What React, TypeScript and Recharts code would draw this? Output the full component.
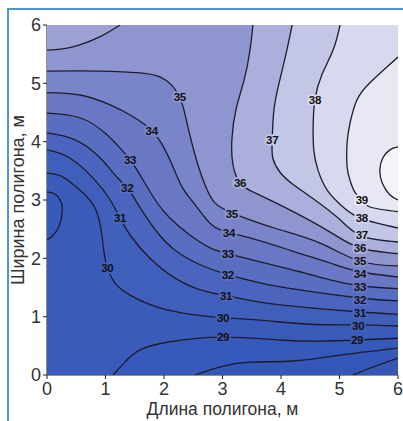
import React from "react";
import { ComposedChart, Scatter, XAxis, YAxis, Label } from "recharts";

type Pt = [number, number];

const ticks = [0, 1, 2, 3, 4, 5, 6];

// plot corners (length, width), m
const plotBox: Pt[] = [[0, 0], [6, 0], [6, 6], [0, 6]];
const closeTopLeftBottom: Pt[] = [[6, 6], [0, 6], [0, 0]];
const closeTop: Pt[] = [[6, 6], [0, 6]];
const closeTopRight: Pt[] = [[6, 6]];
const closeTopLeft: Pt[] = [[0, 6]];

// contour lines
const c27: Pt[] = [[5.23, 0], [5.61, 0.15], [6, 0.29]];
const c28: Pt[] = [[2.53, 0], [2.96, 0.14], [3.47, 0.22], [4.21, 0.24], [5.01, 0.34], [6, 0.46]];
const c29: Pt[] = [[1.13, 0], [1.33, 0.22], [1.59, 0.43], [2.1, 0.57], [3.01, 0.65], [3.98, 0.6], [4.67, 0.58], [5.3, 0.6], [6, 0.63]];
const c29loop: Pt[] = [[0, 3.14], [0.14, 3.1], [0.24, 2.97], [0.26, 2.8], [0.21, 2.56], [0.09, 2.38], [0, 2.32]];
const c30: Pt[] = [[0, 3.46], [0.26, 3.4], [0.56, 3.17], [0.79, 2.92], [0.91, 2.57], [0.97, 2.14], [1.03, 1.84], [1.16, 1.58], [1.42, 1.37], [1.93, 1.15], [2.53, 1.03], [3.01, 0.98], [3.64, 0.94], [4.5, 0.87], [5.32, 0.86], [6, 0.84]];
const c31: Pt[] = [[0, 3.86], [0.39, 3.72], [0.82, 3.34], [1.08, 3.0], [1.25, 2.69], [1.42, 2.4], [1.76, 2.0], [2.19, 1.66], [2.62, 1.46], [3.06, 1.36], [3.64, 1.25], [4.5, 1.15], [5.35, 1.08], [6, 1.04]];
const c32: Pt[] = [[0, 4.15], [0.48, 4.03], [0.91, 3.72], [1.16, 3.43], [1.37, 3.21], [1.56, 2.92], [1.85, 2.49], [2.19, 2.14], [2.62, 1.89], [3.09, 1.72], [3.64, 1.58], [4.32, 1.46], [5.35, 1.32], [6, 1.27]];
const c33: Pt[] = [[0, 4.49], [0.56, 4.41], [0.99, 4.15], [1.25, 3.89], [1.42, 3.69], [1.59, 3.43], [1.85, 3.0], [2.1, 2.69], [2.44, 2.4], [2.79, 2.18], [3.09, 2.08], [3.64, 1.94], [4.32, 1.77], [4.84, 1.63], [5.35, 1.53], [6, 1.48]];
const c34: Pt[] = [[0, 4.84], [0.56, 4.8], [1.08, 4.63], [1.5, 4.41], [1.79, 4.19], [1.97, 3.95], [2.14, 3.6], [2.31, 3.22], [2.53, 2.92], [2.82, 2.57], [3.11, 2.44], [3.47, 2.35], [4.15, 2.14], [4.84, 1.92], [5.35, 1.77], [6, 1.68]];
const c35: Pt[] = [[0, 5.21], [0.91, 5.21], [1.59, 5.18], [1.93, 5.11], [2.14, 4.96], [2.26, 4.77], [2.34, 4.55], [2.44, 4.12], [2.58, 3.6], [2.7, 3.26], [2.87, 2.95], [3.16, 2.78], [3.47, 2.66], [3.98, 2.49], [4.67, 2.26], [5.35, 1.95], [6, 1.87]];
const c36: Pt[] = [[3.52, 6], [3.47, 5.57], [3.37, 5.06], [3.23, 4.55], [3.16, 4.03], [3.18, 3.6], [3.3, 3.29], [3.56, 3.12], [4.15, 2.83], [4.84, 2.45], [5.35, 2.18], [6, 2.08]];
const c36corner: Pt[] = [[0, 5.57], [0.27, 5.59], [0.56, 5.66], [0.91, 5.8], [1.25, 6]];
const c37: Pt[] = [[4.19, 6], [4.1, 5.57], [3.98, 5.06], [3.88, 4.55], [3.85, 4.03], [3.86, 3.72], [3.98, 3.48], [4.19, 3.28], [4.58, 3.0], [5.01, 2.66], [5.38, 2.38], [6, 2.28]];
const c38: Pt[] = [[5.01, 6], [4.89, 5.57], [4.7, 5.15], [4.58, 4.72], [4.55, 4.29], [4.56, 3.86], [4.63, 3.52], [4.79, 3.17], [5.06, 2.88], [5.38, 2.68], [6, 2.52]];
const c39: Pt[] = [[6, 5.45], [5.81, 5.28], [5.52, 5.01], [5.3, 4.72], [5.18, 4.32], [5.13, 3.98], [5.13, 3.57], [5.18, 3.34], [5.26, 3.14], [5.38, 3.0], [5.52, 2.88], [6, 2.8]];
const c40: Pt[] = [[6, 3.91], [5.86, 3.86], [5.74, 3.72], [5.69, 3.52], [5.73, 3.29], [5.86, 3.09], [6, 3.0]];

// contour labels: [value, length, width]
const labels: [number, number, number][] = [
  [35, 2.27, 4.77], [34, 1.79, 4.19], [33, 1.42, 3.69], [32, 1.37, 3.21], [31, 1.25, 2.69], [30, 1.03, 1.84],
  [36, 3.3, 3.29], [35, 3.16, 2.76], [34, 3.11, 2.44], [33, 3.09, 2.08], [32, 3.09, 1.72], [31, 3.06, 1.36], [30, 3.01, 0.98], [29, 3.01, 0.65],
  [37, 3.85, 4.03], [38, 4.58, 4.72],
  [39, 5.38, 3.0], [38, 5.38, 2.69], [37, 5.38, 2.4], [36, 5.35, 2.18], [35, 5.35, 1.96], [34, 5.35, 1.73], [33, 5.35, 1.51], [32, 5.35, 1.29], [31, 5.35, 1.06], [30, 5.32, 0.84], [29, 5.3, 0.6],
];

// fill colour for the region above each level
const LEVEL_COLORS: Record<number, string> = {
  26: "#3456b5",
  27: "#3557b7",
  28: "#3759b9",
  29: "#3a5bba",
  30: "#405fbb",
  31: "#4b65be",
  32: "#596dc1",
  33: "#6977c5",
  34: "#7a84c9",
  35: "#8f95cf",
  36: "#acafdb",
  37: "#c4c6e5",
  38: "#d8d9ee",
  39: "#e8e8f4",
  40: "#f4f4f9",
};

const toXY = (pts: Pt[]) => pts.map(([x, y]) => ({ x, y }));

const fills = [
  { pts: plotBox, color: LEVEL_COLORS[26] },
  { pts: [...c27, ...closeTopLeftBottom], color: LEVEL_COLORS[27] },
  { pts: [...c28, ...closeTopLeftBottom], color: LEVEL_COLORS[28] },
  { pts: [...c29, ...closeTopLeftBottom], color: LEVEL_COLORS[29] },
  { pts: c29loop, color: LEVEL_COLORS[28] },
  { pts: [...c30, ...closeTop], color: LEVEL_COLORS[30] },
  { pts: [...c31, ...closeTop], color: LEVEL_COLORS[31] },
  { pts: [...c32, ...closeTop], color: LEVEL_COLORS[32] },
  { pts: [...c33, ...closeTop], color: LEVEL_COLORS[33] },
  { pts: [...c34, ...closeTop], color: LEVEL_COLORS[34] },
  { pts: [...c35, ...closeTop], color: LEVEL_COLORS[35] },
  { pts: [...c36, ...closeTopRight], color: LEVEL_COLORS[36] },
  { pts: [...c36corner, ...closeTopLeft], color: "#9da1d4" },
  { pts: [...c37, ...closeTopRight], color: LEVEL_COLORS[37] },
  { pts: [...c38, ...closeTopRight], color: LEVEL_COLORS[38] },
  { pts: c39, color: LEVEL_COLORS[39] },
  { pts: c40, color: LEVEL_COLORS[40] },
];

const lines = [c27, c28, c29, c29loop, c30, c31, c32, c33, c34, c35, c36, c36corner, c37, c38, c39, c40];

const Empty = () => <g />;

const LabelMark = (props: any) => {
  const { cx, cy, payload } = props;
  return (
    <text
      x={cx}
      y={cy}
      textAnchor="middle"
      dominantBaseline="central"
      fontFamily="'Liberation Sans Narrow', 'Liberation Sans', Arial, sans-serif"
      fontWeight="bold"
      fontSize={11.5}
      letterSpacing={-0.3}
      fill="#111"
      stroke={LEVEL_COLORS[payload.v]}
      strokeWidth={3.5}
      paintOrder="stroke"
    >
      {payload.v}
    </text>
  );
};

const YTitle = (props: any) => {
  const { viewBox } = props;
  const cx = viewBox.x + 10;
  const cy = viewBox.y + viewBox.height / 2;
  return (
    <text x={cx} y={cy} transform={`rotate(-90 ${cx} ${cy})`} textAnchor="middle" dominantBaseline="central" fill="#333" fontSize={18}>
      Ширина полигона, м
    </text>
  );
};

export default function App() {
  const labelData = labels.map(([v, x, y]) => ({ v, x, y }));
  return (
    <div style={{ position: "fixed", left: 8, top: 8, width: 395, height: 413, fontFamily: "'Liberation Sans', Arial, sans-serif", background: "#fff" }}>
      <div style={{ position: "absolute", left: -1, top: 0, width: 396, height: 2, background: "#5096d7" }} />
      <div style={{ position: "absolute", left: -1, top: 0, width: 2, height: 413, background: "#5096d7" }} />
      <ComposedChart width={395} height={413} margin={{ top: 17, right: 5, bottom: 0, left: 0 }}>
        <XAxis
          type="number"
          dataKey="x"
          domain={[0, 6]}
          ticks={ticks}
          interval={0}
          height={46}
          tickSize={4}
          tickMargin={3}
          stroke="#222"
          tick={{ fill: "#333", fontSize: 18 }}
          allowDataOverflow
        >
          <Label value="Длина полигона, м" position="insideBottom" offset={6} style={{ fill: "#333", fontSize: 17.5 }} />
        </XAxis>
        <XAxis xAxisId="top" orientation="top" type="number" dataKey="x" domain={[0, 6]} ticks={ticks} interval={0} height={0} tick={false} tickSize={4} stroke="#222" allowDataOverflow />
        <YAxis
          type="number"
          dataKey="y"
          domain={[0, 6]}
          ticks={ticks}
          interval={0}
          width={39}
          tickSize={4}
          tickMargin={2}
          stroke="#222"
          tick={{ fill: "#333", fontSize: 18 }}
          allowDataOverflow
        >
          <Label content={YTitle} />
        </YAxis>
        <YAxis yAxisId="right" orientation="right" type="number" dataKey="y" domain={[0, 6]} ticks={ticks} interval={0} width={0} tick={false} tickSize={4} stroke="#222" allowDataOverflow />

        {fills.map((f, i) => (
          <Scatter
            key={"f" + i}
            data={toXY(f.pts)}
            shape={Empty}
            line={{ fill: f.color, stroke: f.color, strokeWidth: 0.6 }}
            lineJointType="linear"
            isAnimationActive={false}
          />
        ))}
        {lines.map((l, i) => (
          <Scatter
            key={"l" + i}
            data={toXY(l)}
            shape={Empty}
            line={{ stroke: "#1c1c2c", strokeWidth: 1.3, fill: "none" }}
            lineJointType="natural"
            isAnimationActive={false}
          />
        ))}
        <Scatter data={labelData} shape={LabelMark} isAnimationActive={false} />
      </ComposedChart>
    </div>
  );
}
